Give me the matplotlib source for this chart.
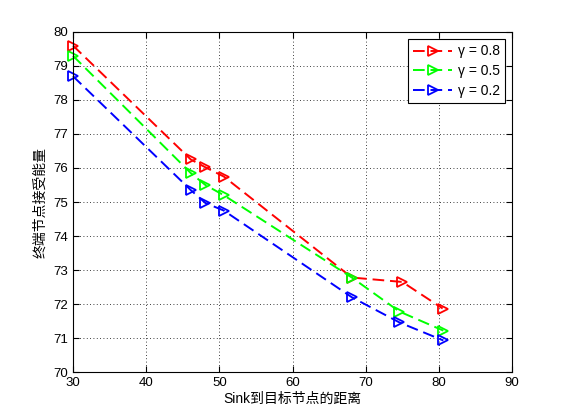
import numpy as np
import matplotlib
matplotlib.use('Agg')
import matplotlib.pyplot as plt

plt.rcParams['font.family'] = ['Liberation Sans', 'Noto Sans CJK SC', 'DejaVu Sans']

# distances Sink -> target node
dist = [30, 46.1, 48.1, 50.6, 68.1, 75.0, 80.5]
dist_b = [30, 46.1, 48.1, 50.6, 68.1, 74.6, 80.6]

# received energy for each gamma
e_08 = [79.6, 76.25, 76.02, 75.75, 72.78, 72.65, 71.87]
e_05 = [79.3, 75.85, 75.5, 75.2, 72.78, 71.78, 71.22]
e_02 = [78.7, 75.35, 74.97, 74.75, 72.2, 71.46, 70.93]

labels = ['γ = 0.8', 'γ = 0.5', 'γ = 0.2']

fig = plt.figure(figsize=(5.61, 4.2), dpi=100)
ax = fig.add_axes([0.13, 0.114, 0.783, 0.81])

style = dict(marker='>', mfc='none', ms=7.5, mew=1.3, lw=1.4, dashes=(6, 3), clip_on=False)
ax.plot(dist, e_08, '--', color='#ff0000', mec='#ff0000', label=labels[0], **style)
ax.plot(dist_b, e_05, '--', color='#00ff00', mec='#00ff00', label=labels[1], **style)
ax.plot(dist_b, e_02, '--', color='#0000ff', mec='#0000ff', label=labels[2], **style)

ax.set_xlim(30, 90)
ax.set_ylim(70, 80)
ax.set_xticks(np.arange(30, 91, 10))
ax.set_yticks(np.arange(70, 81, 1))
ax.grid(True, color='black', linestyle=(0, (1, 3)), linewidth=0.6)
ax.tick_params(direction='in', top=True, right=True, labelsize=9.5, length=4)
for s in ax.spines.values():
    s.set_linewidth(0.8)

ax.set_xlabel('Sink到目标节点的距离', fontsize=10, labelpad=2)
ax.set_ylabel('终端节点接受能量', fontsize=10, labelpad=4)

leg = ax.legend(loc='upper right', fontsize=10, fancybox=False, edgecolor='black',
                framealpha=1, handlelength=2.8, handletextpad=0.4,
                borderpad=0.4, labelspacing=0.4)
leg.get_frame().set_linewidth(0.8)

fig.savefig('out.png', dpi=100)
